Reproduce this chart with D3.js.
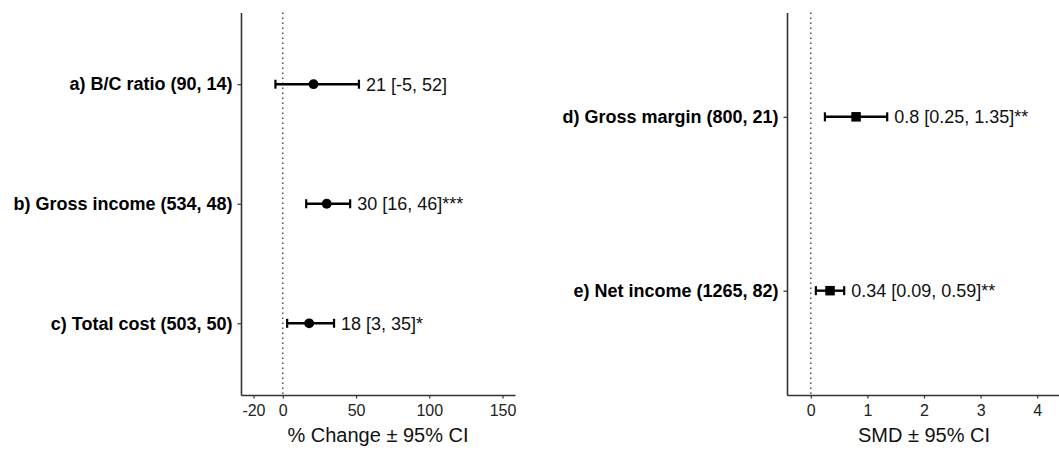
<!DOCTYPE html>
<html>
<head>
<meta charset="utf-8">
<script src="https://cdn.jsdelivr.net/npm/d3@7"></script>
<style>
  html, body { margin: 0; padding: 0; background: #fff; }
  svg { display: block; font-family: "Liberation Sans", Arial, sans-serif; }
</style>
</head>
<body>
<svg id="chart" width="1059" height="455"></svg>
<script>
// Panel 1: percentage change outcomes
const pctLabels = ["a) B/C ratio (90, 14)", "b) Gross income (534, 48)", "c) Total cost (503, 50)"];
const pctEst = [21, 30, 18];
const pctLow = [-5, 16, 3];
const pctHigh = [52, 46, 35];
const pctSig = ["", "***", "*"];
const pctTicks = [-20, 0, 50, 100, 150];

// Panel 2: standardised mean difference outcomes
const smdLabels = ["d) Gross margin (800, 21)", "e) Net income (1265, 82)"];
const smdEst = [0.8, 0.34];
const smdLow = [0.25, 0.09];
const smdHigh = [1.35, 0.59];
const smdSig = ["**", "**"];
const smdTicks = [0, 1, 2, 3, 4];

const svg = d3.select("#chart");
const plotTop = 12.5, plotBottom = 395;
const fontFam = "Liberation Sans, Arial, sans-serif";

function panel(opts) {
  const { left, right, domain, labels, est, low, high, sig, ticks, title, shape } = opts;
  const n = labels.length;
  const x = d3.scaleLinear().domain(domain).range([left, right]);
  const y = d3.scaleLinear().domain([0.4, n + 0.6]).range([plotTop, plotBottom]);
  const g = svg.append("g");

  // reference line at zero
  g.append("line")
    .attr("x1", x(0)).attr("x2", x(0))
    .attr("y1", plotTop).attr("y2", plotBottom)
    .attr("stroke", "#444").attr("stroke-width", 1.4)
    .attr("stroke-dasharray", "1.6,3.4");

  // x axis
  const xAxis = g.append("g")
    .attr("transform", `translate(0,${plotBottom})`)
    .call(d3.axisBottom(x).tickValues(ticks).tickSize(3.5).tickPadding(6).tickSizeOuter(0)
      .tickFormat(d => String(d)));
  xAxis.select(".domain").attr("stroke", "#333").attr("stroke-width", 1.6);
  xAxis.selectAll(".tick line").attr("stroke", "#333").attr("stroke-width", 1.2);
  xAxis.selectAll(".tick text").attr("fill", "#222").attr("font-size", 16)
    .attr("font-family", fontFam);

  // y axis
  const yAxis = g.append("g")
    .attr("transform", `translate(${left},0)`)
    .call(d3.axisLeft(y).tickValues(d3.range(1, n + 1)).tickSize(3.5).tickPadding(5).tickSizeOuter(0)
      .tickFormat(i => labels[i - 1]));
  yAxis.select(".domain").attr("stroke", "#333").attr("stroke-width", 1.6);
  yAxis.selectAll(".tick line").attr("stroke", "#333").attr("stroke-width", 1.2);
  yAxis.selectAll(".tick text").attr("fill", "#000").attr("font-size", 18)
    .attr("font-weight", "bold").attr("font-family", fontFam);

  const rows = d3.range(n);
  const capH = 4.5;
  const rg = g.selectAll("g.row").data(rows).join("g").attr("class", "row");

  rg.append("line")
    .attr("x1", i => x(low[i])).attr("x2", i => x(high[i]))
    .attr("y1", i => y(i + 1)).attr("y2", i => y(i + 1))
    .attr("stroke", "#000").attr("stroke-width", 2.4);
  rg.append("line")
    .attr("x1", i => x(low[i])).attr("x2", i => x(low[i]))
    .attr("y1", i => y(i + 1) - capH).attr("y2", i => y(i + 1) + capH)
    .attr("stroke", "#000").attr("stroke-width", 2.2);
  rg.append("line")
    .attr("x1", i => x(high[i])).attr("x2", i => x(high[i]))
    .attr("y1", i => y(i + 1) - capH).attr("y2", i => y(i + 1) + capH)
    .attr("stroke", "#000").attr("stroke-width", 2.2);

  if (shape === "circle") {
    rg.append("circle")
      .attr("cx", i => x(est[i])).attr("cy", i => y(i + 1))
      .attr("r", 4.9).attr("fill", "#000");
  } else {
    const s = 9.5;
    rg.append("rect")
      .attr("x", i => x(est[i]) - s / 2).attr("y", i => y(i + 1) - s / 2)
      .attr("width", s).attr("height", s).attr("fill", "#000");
  }

  rg.append("text")
    .attr("x", i => x(high[i]) + 7)
    .attr("y", i => y(i + 1))
    .attr("dy", "0.35em")
    .attr("font-size", 18)
    .attr("fill", "#111")
    .text(i => `${est[i]} [${low[i]}, ${high[i]}]${sig[i]}`);

  g.append("text")
    .attr("x", (left + right) / 2)
    .attr("y", 442)
    .attr("text-anchor", "middle")
    .attr("font-size", 20)
    .attr("fill", "#111")
    .text(title);
}

panel({
  left: 241, right: 515, domain: [-28.5, 158.5],
  labels: pctLabels, est: pctEst, low: pctLow, high: pctHigh, sig: pctSig,
  ticks: pctTicks, title: "% Change \u00B1 95% CI", shape: "circle"
});

panel({
  left: 787, right: 1061, domain: [-0.42, 4.42],
  labels: smdLabels, est: smdEst, low: smdLow, high: smdHigh, sig: smdSig,
  ticks: smdTicks, title: "SMD \u00B1 95% CI", shape: "square"
});
</script>
</body>
</html>
